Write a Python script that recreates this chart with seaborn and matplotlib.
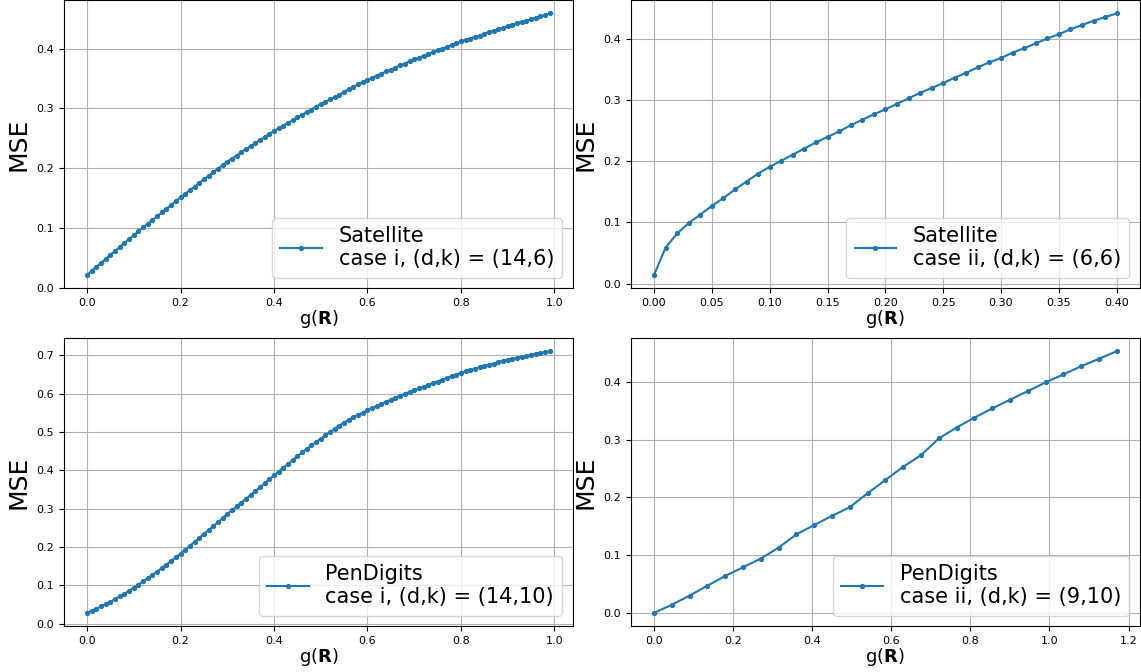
import numpy as np
import seaborn as sns
from matplotlib import pyplot as plt

# -----------------------------------------------------------------------------
# Data

# Satellite, case i, g(R) = 0.00 ... 0.99
sat_i_g = np.round(np.arange(100) * 0.01, 2)
sat_i_mse = [
    0.021, 0.028, 0.035, 0.041, 0.048, 0.055, 0.061, 0.068, 0.075, 0.081,
    0.088, 0.094, 0.101, 0.107, 0.113, 0.119, 0.126, 0.132, 0.138, 0.145,
    0.151, 0.157, 0.163, 0.169, 0.175, 0.181, 0.187, 0.193, 0.199, 0.205,
    0.211, 0.216, 0.221, 0.227, 0.232, 0.237, 0.242, 0.247, 0.252, 0.257,
    0.262, 0.267, 0.271, 0.276, 0.280, 0.285, 0.289, 0.294, 0.298, 0.303,
    0.307, 0.311, 0.315, 0.319, 0.323, 0.328, 0.332, 0.336, 0.340, 0.344,
    0.348, 0.351, 0.355, 0.358, 0.362, 0.365, 0.368, 0.372, 0.375, 0.379,
    0.382, 0.385, 0.388, 0.391, 0.394, 0.397, 0.400, 0.403, 0.406, 0.409,
    0.412, 0.415, 0.417, 0.420, 0.422, 0.425, 0.428, 0.430, 0.433, 0.435,
    0.438, 0.440, 0.443, 0.445, 0.447, 0.449, 0.452, 0.454, 0.456, 0.459,
]

# Satellite, case ii, g(R) = 0.00 ... 0.40
sat_ii_g = np.round(np.arange(41) * 0.01, 2)
sat_ii_mse = [
    0.014, 0.059, 0.082, 0.099, 0.113, 0.127, 0.140, 0.154, 0.167, 0.180,
    0.191, 0.201, 0.211, 0.221, 0.231, 0.240, 0.249, 0.259, 0.268, 0.277,
    0.285, 0.294, 0.303, 0.312, 0.320, 0.328, 0.337, 0.345, 0.354, 0.362,
    0.369, 0.378, 0.385, 0.393, 0.401, 0.408, 0.416, 0.423, 0.430, 0.436,
    0.442,
]

# PenDigits, case i, g(R) = 0.00 ... 0.99
pen_i_g = np.round(np.arange(100) * 0.01, 2)
pen_i_mse = [
    0.028, 0.034, 0.039, 0.045, 0.051, 0.057, 0.064, 0.071, 0.078, 0.086,
    0.094, 0.102, 0.110, 0.119, 0.127, 0.136, 0.145, 0.154, 0.164, 0.173,
    0.183, 0.193, 0.203, 0.213, 0.223, 0.234, 0.244, 0.254, 0.265, 0.275,
    0.286, 0.296, 0.306, 0.316, 0.326, 0.336, 0.346, 0.356, 0.366, 0.377,
    0.387, 0.397, 0.407, 0.417, 0.427, 0.437, 0.447, 0.456, 0.465, 0.474,
    0.483, 0.492, 0.500, 0.509, 0.517, 0.525, 0.532, 0.539, 0.545, 0.551,
    0.557, 0.563, 0.568, 0.574, 0.579, 0.585, 0.590, 0.595, 0.600, 0.605,
    0.609, 0.614, 0.619, 0.623, 0.628, 0.632, 0.637, 0.641, 0.646, 0.650,
    0.655, 0.659, 0.662, 0.666, 0.669, 0.673, 0.676, 0.679, 0.683, 0.686,
    0.689, 0.692, 0.694, 0.697, 0.699, 0.702, 0.704, 0.706, 0.709, 0.711,
]

# PenDigits, case ii, g(R) = 0.000 ... 1.170
pen_ii_g = np.round(np.arange(27) * 0.045, 3)
pen_ii_mse = [
    0.000, 0.014, 0.030, 0.047, 0.064, 0.079, 0.094, 0.113, 0.136, 0.152,
    0.168, 0.183, 0.207, 0.230, 0.253, 0.273, 0.302, 0.321, 0.338, 0.354,
    0.369, 0.384, 0.399, 0.413, 0.427, 0.440, 0.453,
]

panels = [
    (sat_i_g, sat_i_mse, 'Satellite\ncase i, (d,k) = (14,6)'),
    (sat_ii_g, sat_ii_mse, 'Satellite\ncase ii, (d,k) = (6,6)'),
    (pen_i_g, pen_i_mse, 'PenDigits\ncase i, (d,k) = (14,10)'),
    (pen_ii_g, pen_ii_mse, 'PenDigits\ncase ii, (d,k) = (9,10)'),
]

# -----------------------------------------------------------------------------

color = '#1f77b4'

figure, axes = plt.subplots(2, 2, figsize=(11.41, 6.72), dpi=100)
figure.subplots_adjust(left=0.056, right=0.999, top=0.9995, bottom=0.0685,
                       wspace=0.114, hspace=0.174)

for ax, (g_vals, mse_vals, label) in zip(axes.flat, panels):
    sns.lineplot(x=g_vals, y=mse_vals, ax=ax, marker='.', color=color,
                 markersize=6, markeredgecolor=color, linewidth=1.5,
                 label=label)
    ax.grid(True)
    ax.set_axisbelow(True)
    ax.set_xlabel('g($\\mathbf{R}$)', fontsize=13, labelpad=0)
    ax.set_ylabel('MSE', fontsize=18)
    ax.tick_params(labelsize=8)
    ax.legend(loc='lower right', fontsize=15)

plt.savefig('out.png', dpi=100)
plt.close()
